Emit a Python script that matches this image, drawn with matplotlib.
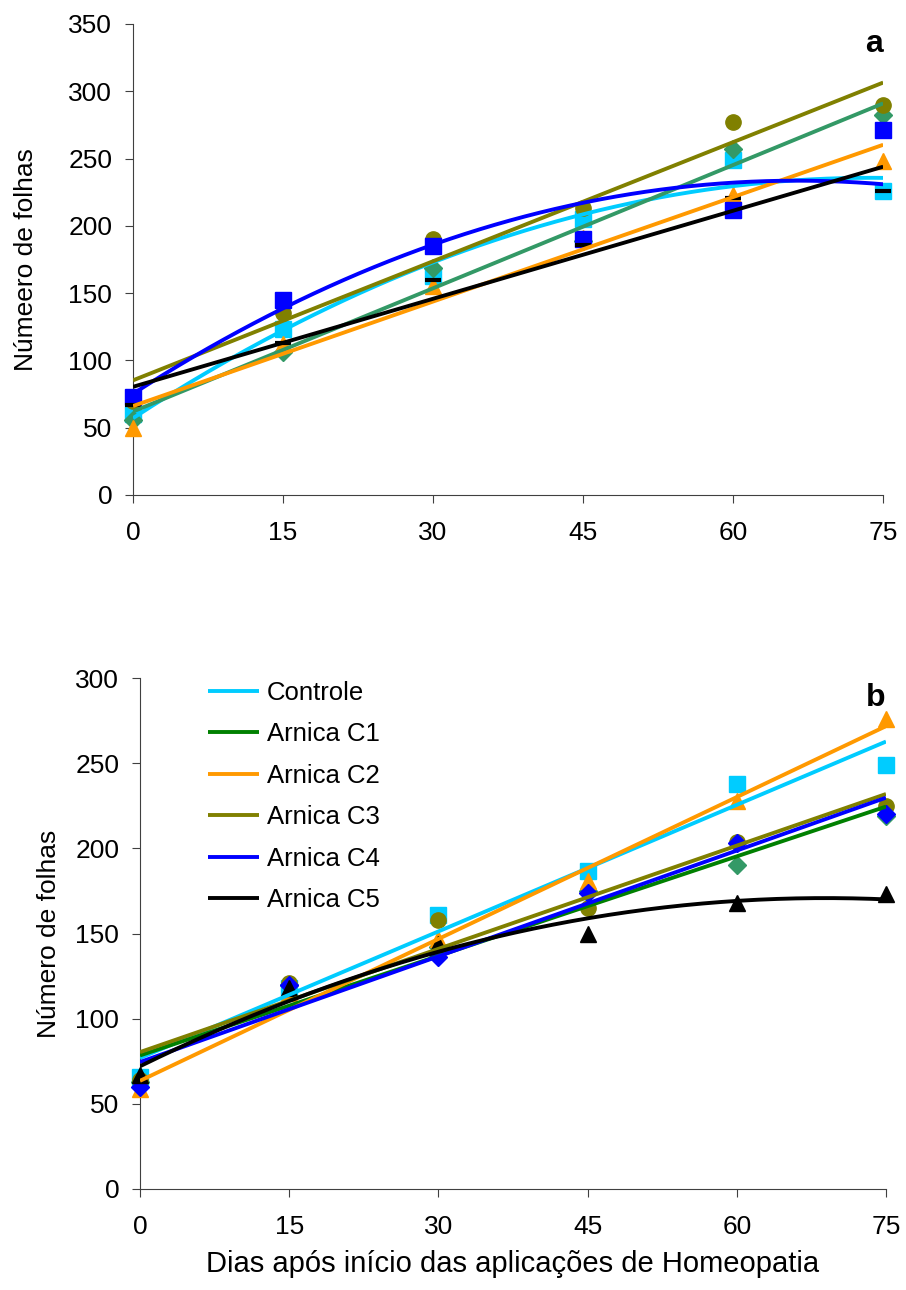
import matplotlib.pyplot as plt
import numpy as np

plt.rcParams['font.family'] = ['Liberation Sans', 'DejaVu Sans']

days = np.array([0, 15, 30, 45, 60, 75])

# painel a - numero de folhas
a_controle = [60, 123, 163, 205, 249, 226]
a_c1 = [56, 106, 169, 189, 257, 282]
a_c2 = [50, 112, 155, 191, 223, 248]
a_c3 = [70, 135, 190, 213, 277, 290]
a_c4 = [73, 145, 185, 190, 212, 271]
a_c5 = [67, 113, 160, 186, 221, 226]
# linha de tendencia (polinomial) de C4
a_c4_tend = [75, 139, 186, 217, 232, 231]

# painel b
b_controle = [66, 118, 161, 187, 238, 249]
b_c1 = [63, 120, 142, 175, 190, 219]
b_c2 = [59, 115, 147, 181, 228, 276]
b_c3 = [64, 121, 158, 165, 204, 225]
b_c4 = [60, 120, 136, 174, 203, 220]
b_c5 = [67, 118, 144, 150, 168, 173]

names = ['Controle', 'Arnica C1', 'Arnica C2', 'Arnica C3', 'Arnica C4', 'Arnica C5']

fig = plt.figure(figsize=(9.06, 12.9), dpi=100)
ax1 = fig.add_axes([0.1468, 0.6163, 0.828, 0.3651])
ax2 = fig.add_axes([0.1545, 0.0783, 0.8234, 0.396])


def series(ax, y, mcol, marker, lcol, deg, ms=11, label=None, mew=1, tend=None):
    ax.plot(days, y, linestyle='none', marker=marker, color=mcol, ms=ms,
            mew=mew, clip_on=False, zorder=3)
    p = np.polyfit(days, y if tend is None else tend, deg)
    xx = np.linspace(0, 75, 200)
    ax.plot(xx, np.polyval(p, xx), color=lcol, lw=2.8, zorder=4,
            solid_capstyle='butt', label=label)


# painel a
series(ax1, a_controle, '#00CCFF', 's', '#00CCFF', 2)
series(ax1, a_c1, '#339966', 'D', '#339966', 1, ms=9)
series(ax1, a_c2, '#FF9900', '^', '#FF9900', 1, ms=12)
series(ax1, a_c3, '#808000', 'o', '#808000', 1)
series(ax1, a_c4, '#0000FF', 's', '#0000FF', 2, tend=a_c4_tend)
series(ax1, a_c5, 'black', '_', 'black', 1, ms=12, mew=3)

# painel b
series(ax2, b_controle, '#00CCFF', 's', '#00CCFF', 1, label=names[0])
series(ax2, b_c1, '#339966', 'D', '#008000', 1, ms=9, label=names[1])
series(ax2, b_c2, '#FF9900', '^', '#FF9900', 1, ms=12, label=names[2])
series(ax2, b_c3, '#808000', 'o', '#808000', 1, label=names[3])
series(ax2, b_c4, '#0000FF', 'D', '#0000FF', 1, ms=9, label=names[4])
series(ax2, b_c5, 'black', '^', 'black', 2, ms=11, label=names[5])

for ax in (ax1, ax2):
    ax.set_xlim(0, 75)
    ax.set_xticks(days)
    ax.spines['top'].set_visible(False)
    ax.spines['right'].set_visible(False)
    ax.spines['left'].set_color('#404040')
    ax.spines['bottom'].set_color('#404040')
    ax.tick_params(direction='out', length=6, labelsize=19, pad=9,
                   color='#404040')
    ax.tick_params(axis='x', pad=13)

ax1.set_ylim(0, 350)
ax1.set_yticks(np.arange(0, 351, 50))
ax1.set_ylabel('Númeero de folhas', fontsize=19, labelpad=22)
ax1.text(1.0, 0.99, 'a', transform=ax1.transAxes, fontsize=23,
         fontweight='bold', ha='right', va='top')

ax2.set_ylim(0, 300)
ax2.set_yticks(np.arange(0, 301, 50))
ax2.set_ylabel('Número de folhas', fontsize=19, labelpad=10)
ax2.set_xlabel('Dias após início das aplicações de Homeopatia', fontsize=21,
               labelpad=8)
ax2.text(1.0, 0.99, 'b', transform=ax2.transAxes, fontsize=23,
         fontweight='bold', ha='right', va='top')

handles, labels = ax2.get_legend_handles_labels()
ax2.legend(handles, labels, loc='upper left', bbox_to_anchor=(0.06, 1.04),
           frameon=False, fontsize=18.5, handlelength=2.0, handletextpad=0.3,
           labelspacing=0.68)

fig.savefig('out.png', dpi=100)
